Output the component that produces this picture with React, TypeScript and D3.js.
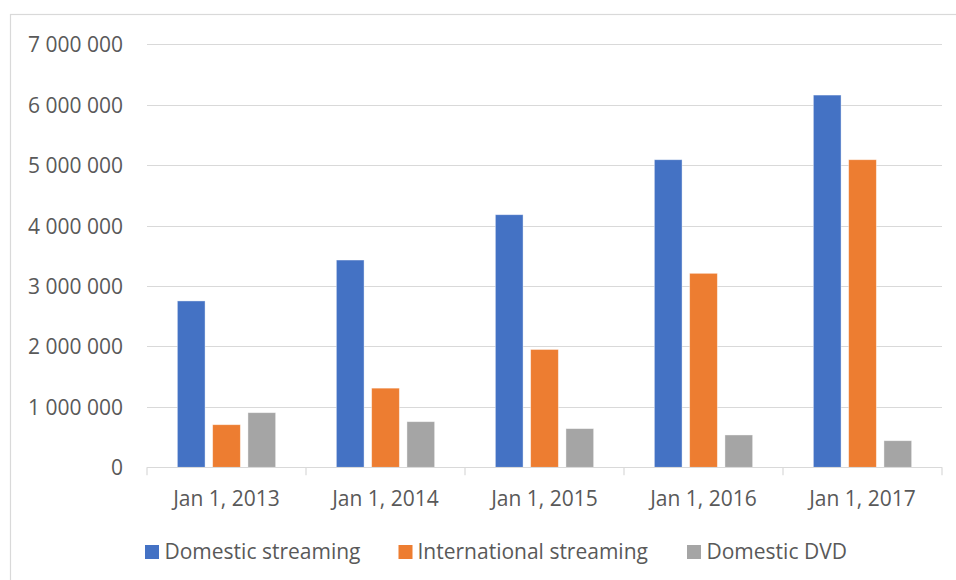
import React from "react";
import * as d3 from "d3";

const categories = ["Jan 1, 2013", "Jan 1, 2014", "Jan 1, 2015", "Jan 1, 2016", "Jan 1, 2017"];
const seriesNames = ["Domestic streaming", "International streaming", "Domestic DVD"];
const domesticStreaming = [2753000, 3430000, 4180000, 5090000, 6160000];
const internationalStreaming = [705000, 1310000, 1950000, 3210000, 5090000];
const domesticDVD = [904000, 755000, 640000, 535000, 440000];
const seriesColors = ["#4472C4", "#ED7D31", "#A5A5A5"];
const yTicks = [0, 1000000, 2000000, 3000000, 4000000, 5000000, 6000000, 7000000];

const W = 956;
const H = 580;
const plot = { left: 147, right: 942, top: 44.3, bottom: 467.3 };
const FONT = "'Open Sans', sans-serif";
const TEXT = "#595959";
const GRID = "#d9d9d9";

function fmt(v: number) {
  if (v === 0) return "0";
  return d3.format(",")(v).replace(/,/g, " ");
}

export default function App() {
  const seriesValues = [domesticStreaming, internationalStreaming, domesticDVD];
  const x = d3.scaleBand<string>().domain(categories).range([plot.left, plot.right]).padding(0);
  const inner = d3
    .scaleBand<string>()
    .domain(seriesNames)
    .range([0, x.step()])
    .paddingInner(0.215)
    .paddingOuter(0.86);
  const y = d3.scaleLinear().domain([0, 7000000]).range([plot.bottom, plot.top]);

  const tickXs = categories.map((c) => x(c) as number).concat([plot.right]);

  const legendItems = [
    { name: seriesNames[0], sq: 145, tx: 164.5 },
    { name: seriesNames[1], sq: 398.5, tx: 417.5 },
    { name: seriesNames[2], sq: 687, tx: 706.5 },
  ];

  return (
    <svg
      width={W}
      height={H}
      style={{ position: "absolute", left: 0, top: 0, background: "#fff" }}
      fontFamily={FONT}
    >
      <rect x={0} y={0} width={W} height={H} fill="#fff" />
      <rect x={10.5} y={14.5} width={W + 20} height={H + 20} fill="none" stroke={GRID} strokeWidth={1.2} />
      {yTicks.map((t) => (
        <g key={t}>
          {t > 0 && (
            <line x1={plot.left} x2={plot.right} y1={Math.round(y(t)) + 0.5} y2={Math.round(y(t)) + 0.5} stroke={GRID} strokeWidth={1.2} />
          )}
          <text x={123} y={y(t) + 8} textAnchor="end" fontSize={21} fill={TEXT}>
            {fmt(t)}
          </text>
        </g>
      ))}
      {categories.map((c, ci) =>
        seriesValues.map((vals, si) => (
          <rect
            key={c + si}
            x={(x(c) as number) + (inner(seriesNames[si]) as number)}
            y={y(vals[ci])}
            width={inner.bandwidth()}
            height={y(0) - y(vals[ci])}
            fill={seriesColors[si]}
            stroke="#ffffff"
            strokeOpacity={0.5}
            strokeWidth={0.8}
          />
        ))
      )}
      <line x1={plot.left} x2={plot.right} y1={Math.round(y(0)) + 0.5} y2={Math.round(y(0)) + 0.5} stroke={GRID} strokeWidth={1.2} />
      {tickXs.map((tx, i) => (
        <line key={i} x1={tx} x2={tx} y1={y(0)} y2={y(0) + 8} stroke={GRID} strokeWidth={1.2} />
      ))}
      {categories.map((c) => (
        <text
          key={c}
          x={(x(c) as number) + x.bandwidth() / 2}
          y={506}
          textAnchor="middle"
          fontSize={21}
          fill={TEXT}
        >
          {c}
        </text>
      ))}
      {legendItems.map((it, i) => (
        <g key={it.name}>
          <rect x={it.sq} y={545} width={14} height={14} fill={seriesColors[i]} />
          <text x={it.tx} y={559} fontSize={21} fill={TEXT}>
            {it.name}
          </text>
        </g>
      ))}
    </svg>
  );
}
